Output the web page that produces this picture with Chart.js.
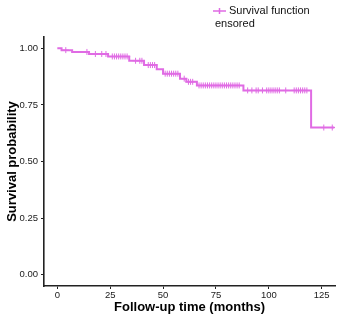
<!DOCTYPE html>
<html>
<head>
<meta charset="utf-8">
<script src="https://cdn.jsdelivr.net/npm/chart.js@4"></script>
<style>
  html, body { margin: 0; padding: 0; background: #fff; }
  #wrap { width: 342px; height: 322px; position: relative; }
</style>
</head>
<body>
<div id="wrap"><canvas id="kmChart"></canvas></div>
<script>
// Kaplan-Meier steps: time (months) and survival after that time
const stepTimes = [0, 2, 7, 15, 24, 34, 41, 47, 50, 58, 61, 66, 88, 120, 131];
const stepSurv = [1.0, 0.992, 0.984, 0.975, 0.964, 0.945, 0.926, 0.908, 0.888, 0.866, 0.852, 0.836, 0.814, 0.65, 0.65];

// censored observations (months)
const censorTimes = [4, 14, 18, 21, 23, 26, 27, 28, 29, 30, 31, 32, 33, 37, 39, 40, 43, 44, 45, 46,
  51, 52, 53, 54, 55, 56, 57, 60, 62, 63, 64, 67, 68, 69, 70, 71, 72, 73, 74, 75, 76, 77, 78, 79,
  80, 81, 82, 83, 84, 85, 86, 90, 92, 94, 95, 97, 99, 100, 101, 102, 103, 104, 105, 108, 112,
  113, 114, 115, 116, 117, 118, 126, 130];

const xTicks = [0, 25, 50, 75, 100, 125];
const yTicks = [0, 0.25, 0.5, 0.75, 1];

const lineColor = '#E06BE4';

// survival value at time t
const survAt = (t) => {
  let s = stepSurv[0];
  for (let i = 0; i < stepTimes.length; i++) {
    if (stepTimes[i] <= t) s = stepSurv[i];
  }
  return s;
};

const kmData = stepTimes.map((t, i) => ({ x: t, y: stepSurv[i] }));
const censorData = censorTimes.map((t) => ({ x: t, y: survAt(t) }));

// legend drawn by hand (the original is cropped on the left)
const legendPlugin = {
  id: 'kmLegend',
  afterDraw: (chart) => {
    const ctx = chart.ctx;
    ctx.save();
    ctx.strokeStyle = lineColor;
    ctx.lineWidth = 1.5;
    ctx.beginPath();
    ctx.moveTo(213, 11);
    ctx.lineTo(226, 11);
    ctx.moveTo(219.5, 8);
    ctx.lineTo(219.5, 14);
    ctx.stroke();
    ctx.fillStyle = '#111';
    ctx.font = '11px "Liberation Sans", Arial, sans-serif';
    ctx.textBaseline = 'middle';
    ctx.textAlign = 'left';
    ctx.fillText('Survival function', 229, 11);
    ctx.fillText('ensored', 215, 24);
    ctx.restore();
  },
};

const config = {
  type: 'line',
  data: {
    datasets: [
      {
        label: 'Survival function',
        data: kmData,
        borderColor: lineColor,
        borderWidth: 2,
        stepped: 'before',
        pointRadius: 0,
        fill: false,
      },
      {
        label: 'Censored',
        type: 'scatter',
        data: censorData,
        showLine: false,
        pointStyle: 'cross',
        pointRadius: 3,
        borderColor: lineColor,
        borderWidth: 1,
      },
    ],
  },
  options: {
    responsive: true,
    maintainAspectRatio: false,
    animation: false,
    layout: { padding: { top: 37, right: 7, bottom: 0, left: 0 } },
    plugins: {
      legend: { display: false },
      tooltip: { enabled: false },
    },
    scales: {
      x: {
        type: 'linear',
        min: -6.3,
        max: 131.3,
        afterBuildTicks: (scale) => {
          scale.ticks = xTicks.map((v) => ({ value: v }));
        },
        afterFit: (scale) => {
          scale.height = 36;
        },
        grid: { drawOnChartArea: false, drawTicks: true, tickLength: 3, color: '#222', lineWidth: 1 },
        border: { display: true, color: '#222', width: 1.6 },
        ticks: {
          padding: 1,
          color: '#1a1a1a',
          font: { family: '"Liberation Sans", Arial, sans-serif', size: 9.5 },
        },
        title: {
          display: true,
          text: 'Follow-up time (months)',
          color: '#000',
          padding: { top: 0, bottom: 7 },
          font: { family: '"Liberation Sans", Arial, sans-serif', size: 13, weight: 'bold' },
        },
      },
      y: {
        min: -0.05,
        max: 1.05,
        afterBuildTicks: (scale) => {
          scale.ticks = yTicks.map((v) => ({ value: v }));
        },
        afterFit: (scale) => {
          scale.width = 44;
        },
        grid: { drawOnChartArea: false, drawTicks: true, tickLength: 3, color: '#222', lineWidth: 1 },
        border: { display: true, color: '#222', width: 1.6 },
        ticks: {
          padding: 3,
          color: '#1a1a1a',
          callback: (v) => Number(v).toFixed(2),
          font: { family: '"Liberation Sans", Arial, sans-serif', size: 9.5 },
        },
        title: {
          display: true,
          text: 'Survival probability',
          color: '#000',
          padding: { top: 5, bottom: 0 },
          font: { family: '"Liberation Sans", Arial, sans-serif', size: 13, weight: 'bold' },
        },
      },
    },
  },
  plugins: [legendPlugin],
};

window.kmChart = new Chart(document.getElementById('kmChart'), config);
</script>
</body>
</html>
